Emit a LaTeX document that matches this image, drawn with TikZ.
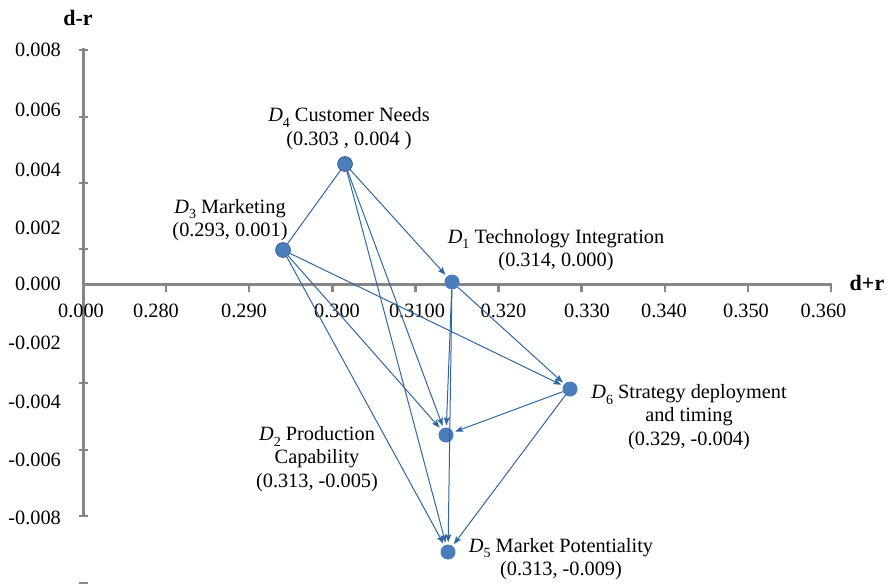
\documentclass[tikz,border=0pt]{standalone}
\usepackage{fontspec}
\setmainfont{Liberation Serif}
\usetikzlibrary{arrows.meta}
\definecolor{axisgray}{HTML}{868686}
\definecolor{markerblue}{HTML}{4A7EBB}
\definecolor{linkblue}{HTML}{2F66A3}
% italic D with a lowered index
\newcommand\Dn[1]{\textit{D}\raisebox{-0.28em}{\fontsize{14}{14}\selectfont #1}}

\begin{document}
\begin{tikzpicture}[x=1pt,y=-1pt,
  font=\fontsize{20.3}{23.5}\selectfont,
  axis/.style={draw=axisgray,line width=3pt},
  tickmark/.style={draw=axisgray,line width=2.4pt},
  marker/.style={circle,fill=markerblue,minimum size=15pt,inner sep=0pt},
  link/.style={draw=linkblue,line width=1pt,
    -{Stealth[length=8pt,width=6pt,inset=1.5pt]},shorten >=2pt},
  plainlink/.style={draw=linkblue,line width=1pt},
  lbl/.style={align=center,inner sep=0pt},
  ticklbl/.style={inner sep=0pt}
]
\useasboundingbox (0,0) rectangle (893,585);

% axes
\draw[axis] (83,48) -- (83,517);
\foreach \y in {50,117,183,249,383,450,516,583}
  \draw[tickmark] (79,\y) -- (88,\y);
\draw[axis] (82,284) -- (832,284);
\foreach \i in {0,...,9}
  \draw[tickmark] ({83+83.1*\i},284) -- ({83+83.1*\i},292);

% vertical axis labels
\foreach \y/\t in {50/0.008,110/0.006,170/0.004,228/0.002,284/0.000,
                   343/-0.002,402/-0.004,460/-0.006,518/-0.008}
  \node[ticklbl,anchor=east] at (61,\y) {\t};
% horizontal axis labels
\foreach \x/\t in {81/0.000,156/0.280,244/0.290,337/0.300,417/0.3100,
                   503.5/0.320,587/0.330,664/0.340,746/0.350,823.5/0.360}
  \node[ticklbl] at (\x,311) {\t};

\node[ticklbl,font=\fontsize{22}{24}\selectfont] (dpr) at (867,283) {\textbf{d+r}};
\node[ticklbl,font=\fontsize{22}{24}\selectfont] (dmr) at (78,18) {\textbf{d-r}};

% dimensions
\node[marker] (d1) at (452,282) {};
\node[marker] (d2) at (446,435) {};
\node[marker,draw=markerblue!60!black,line width=0.5pt] (d3) at (283,250) {};
\node[marker,draw=markerblue!60!black,line width=0.5pt] (d4) at (345,164) {};
\node[marker] (d5) at (448,552) {};
\node[marker] (d6) at (570,389) {};

\node[lbl] (l4) at (349,128.5) {\Dn{4} Customer Needs\\(0.303 , 0.004 )};
\node[lbl] (l3) at (230,220) {\Dn{3} Marketing\\(0.293, 0.001)};
\node[lbl] (l1) at (556,250) {\Dn{1} Technology Integration\\(0.314, 0.000)};
\node[lbl] (l6) at (689,417) {\Dn{6} Strategy deployment\\and timing\\(0.329, -0.004)};
\node[lbl] (l2) at (317,459) {\Dn{2} Production\\Capability\\(0.313, -0.005)};
\node[lbl] (l5) at (561,559) {\Dn{5} Market Potentiality\\(0.313, -0.009)};

% influence links
\draw[plainlink] (d3) -- (d4);
\draw[link] (d4) -- (d1);
\draw[link] (d4) -- (d2);
\draw[link] (d4) -- (d5);
\draw[link] (d3) -- (d6);
\draw[link] (d3) -- (d2);
\draw[link] (d3) -- (d5);
\draw[link] (d1) -- (d6);
\draw[link] (d1) -- (d2);
\draw[link] (d1) -- (d5);
\draw[link] (d6) -- (d2);
\draw[link] (d6) -- (d5);
\end{tikzpicture}
\end{document}
